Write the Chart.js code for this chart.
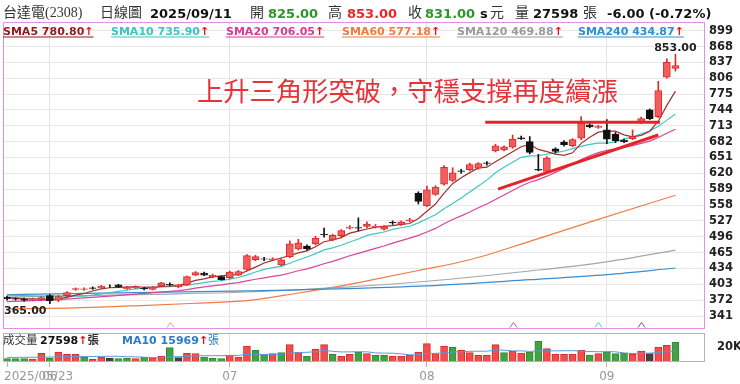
<!DOCTYPE html>
<html><head><meta charset="utf-8">
<script src="https://cdn.jsdelivr.net/npm/chart.js@4.4.1/dist/chart.umd.min.js"></script>
<style>
html,body{margin:0;padding:0;background:#fff;}
#wrap{position:relative;width:740px;height:384px;overflow:hidden;background:#fff;}
canvas{position:absolute;left:0;}
.t{position:absolute;white-space:nowrap;line-height:1;transform:translateY(-50%);}
.hz{font-family:"Liberation Serif","Noto Sans CJK TC",serif;font-size:14px;color:#333;}
.hn{font-family:"DejaVu Sans",sans-serif;font-weight:bold;font-size:13px;color:#111;}
.lg{font-family:"DejaVu Sans",sans-serif;font-weight:bold;font-size:11px;text-decoration:underline;text-underline-offset:2px;}
.vz{font-family:"Noto Sans CJK TC",sans-serif;font-size:11.5px;color:#333;}
.vn{font-family:"DejaVu Sans",sans-serif;font-weight:bold;font-size:11px;color:#111;}
.xl{font-family:"DejaVu Sans",sans-serif;font-size:12px;color:#999;}
.up{color:#e8101a;}
#note{font-family:"Noto Sans CJK TC",sans-serif;font-size:26.3px;color:#e4343a;}
</style></head><body><div id="wrap">
<canvas id="main" width="740" height="335" style="top:0"></canvas>
<canvas id="vol" width="740" height="54" style="top:330px"></canvas>
</div>
<script>
// ---------------- DATA ----------------
const stockName = '台達電(2308)';
const chartKind = '日線圖';
const dates = ['2025/05/23','2025/05/26','2025/05/27','2025/05/28','2025/05/29',
'2025/06/02','2025/06/03','2025/06/04','2025/06/05','2025/06/06','2025/06/09','2025/06/10','2025/06/11','2025/06/12','2025/06/13',
'2025/06/16','2025/06/17','2025/06/18','2025/06/19','2025/06/20','2025/06/23','2025/06/24','2025/06/25','2025/06/26','2025/06/27','2025/06/30',
'2025/07/01','2025/07/02','2025/07/03','2025/07/04','2025/07/07','2025/07/08','2025/07/09','2025/07/10','2025/07/11',
'2025/07/14','2025/07/15','2025/07/16','2025/07/17','2025/07/18','2025/07/21','2025/07/22','2025/07/23','2025/07/24','2025/07/25',
'2025/07/28','2025/07/29','2025/07/30','2025/07/31',
'2025/08/01','2025/08/04','2025/08/05','2025/08/06','2025/08/07','2025/08/08','2025/08/11','2025/08/12','2025/08/13','2025/08/14','2025/08/15',
'2025/08/18','2025/08/19','2025/08/20','2025/08/21','2025/08/22','2025/08/25','2025/08/26','2025/08/27','2025/08/28','2025/08/29',
'2025/09/01','2025/09/02','2025/09/03','2025/09/04','2025/09/05','2025/09/08','2025/09/09','2025/09/10','2025/09/11'];
const opens  = [378,375,374,372.5,373,381,372,381,393,393,396,396,399,402,394,396,395,393,400,403,398,402,421,425,418,418,416,421,432,451,
453,451,441,457,472,478,482,501,490,498,513,514,516,515,511,524,520,527,581,557,579,599,606,625,627,630,640.5,664,666,671,
689.5,682,628,624,668,681,674,689,715,710,705,697,685,688,719,744,731,808,825];
const highs  = [380,377,376,376,379,383,381,389,396,396,398,401,402,403,399,400,397,399,407,406,403,419,428,427,423,419,429,430,461,460,
456,455,453,488,491,480,497,513,501,510,518,533,525,520,518,527,527,532,584,595,596,635,631,628,640,641,643,677,674,695,
693,692,657,653,670,684,688,731,717,714,725,700,687,705,730,746,800,844,853];
const lows   = [372,372,370,371,371,365,369,379,391,391,393,395,397,397,393,395,392,392,399,400,396,401,420,420,416,411,414,420,430,449,
449,449,439,455,470,470,480,495,488,496,511,508,514,513,509,520,518,525,560,555,577,597,604,620,625,628,636,662,664,669,
686,658,625,622,660,673,672,686,709,708,678,680,680,686,717,725,729,806,820];
const closes = [375,374,372,373.5,377,371,379,387,394.5,394,395,399,399,398,397,398.5,394,398,406,402,402,418,426,421,420.5,412,427,428,459,457,
452,453,451,482,484,472,493,500,499,508,515,513,521,516.5,516,523,525,529,565,588,593,632,621,624,637,639,639.5,674,672,687,
688,661,626,650,663,676,686,718,711,712,687,684,682,692,727,727,782,837,831];
const priorClose = 377;
const volumes = [4600,4600,4600,4100,12000,5100,13800,10600,10600,6900,
3700,6900,5100,4600,5100,4600,6900,6000,8300,19800,
6000,12000,11500,6900,5100,4600,9700,6900,22100,16100,
10100,11500,12900,23900,12900,7800,17500,23900,10600,7800,
10600,13800,11500,9200,9200,7800,8300,9200,13800,25300,
11500,21600,20700,16100,12900,9200,9200,23900,12900,14700,
12400,13800,28500,18400,10600,10600,10600,16100,9200,11500,
13800,11500,12400,10600,15200,11500,20700,23000,27598];
const sma5Head  = [[0,377],[2,375]];
const sma10Head = [[0,382],[4,380]];
const sma20Head = [[0,369],[6,373],[12,380]];
const volMa10Head = [[0,6300],[4,6600]];
const sma60Pts  = [[0,355],[8,357],[15,361],[22,366],[28,371],[34,386],[39,400],[43,413],[48,430],[54,451],[61,487],[69,530],[78,577.18]];
const sma120Pts = [[0,378],[17,383.5],[28,388],[40,398],[49,409],[61,429],[70,447],[78,469.88]];
const sma240Pts = [[0,383],[28,390],[49,400],[61,412],[70,422],[78,434.87]];
const maNames  = ['SMA5','SMA10','SMA20','SMA60','SMA120','SMA240'];
const maLatest = [780.80,735.90,706.05,577.18,469.88,434.87];
const volMa10Latest = 15969;
const yTicks = [899,868,837,806,775,744,713,682,651,620,589,558,527,496,465,434,403,372,341];
const volTicks = [20000];
const resistance = [[55.8,720],[76.2,720]];
const support = [[57.3,589],[76.0,695]];
const signalIdx = [19,59,69,74];
const noteText = '上升三角形突破，守穩支撐再度續漲';

// ---------------- STYLES ----------------
const maColors = ['#a0302c','#3ec6c6','#d9449c','#f07c46','#a6a6a6','#3b8dd1'];
const maTextColors = ['#8e1b1b','#3ec3c3','#d43c96','#f07b3f','#9a9a9a','#2f8fd0'];
const signalColors = ['#f29a8a','#d9559f','#4cc8d8','#9c4a4a'];
const RED_FILL='#f45d5d', RED_LINE='#dc2a2a', BLACK='#111';
const VOL_UP='#f24c4c', VOL_UP_B='#d42e2e', VOL_DN='#45a045', VOL_DN_B='#2f8a2f', VOL_EQ='#444';

// ---------------- HELPERS ----------------
const N = closes.length;
const idx = closes.map((_,i)=>i);
function smaPts(arr,n,head){
  const pts = head.map(([i,v])=>({x:i,y:v}));
  for(let i=n-1;i<arr.length;i++){let s=0;for(let k=i-n+1;k<=i;k++)s+=arr[k];pts.push({x:i,y:s/n});}
  return pts;
}
const toPts = a=>a.map(([i,v])=>({x:i,y:v}));
const isUp = i=>closes[i]>opens[i];
const candleFill = idx.map(i=>isUp(i)?RED_FILL:BLACK);
const candleLine = idx.map(i=>isUp(i)?RED_LINE:BLACK);
const dir = idx.map(i=>{const p=i===0?priorClose:closes[i-1];return closes[i]>p?1:closes[i]<p?-1:0;});
const monthTicks = dates.map((d,i)=>({i,d})).filter(o=>o.i===0||dates[o.i].slice(5,7)!==dates[o.i-1].slice(5,7))
  .map(o=>({i:o.i,label:o.i===0?o.d:o.d.slice(5,7)}));

// ---------------- HTML TEXT ----------------
const wrap = document.getElementById('wrap');
function addText(x,y,html,cls,style){const d=document.createElement('div');d.className='t '+cls;d.style.left=x+'px';d.style.top=y+'px';if(style)d.style.cssText+=style;d.innerHTML=html;wrap.appendChild(d);return d;}
const L = N-1, chg = closes[L]-closes[L-1], pct = chg/closes[L-1]*100;
const colorOf = v=>v>closes[L-1]?'#e8262a':v<closes[L-1]?'#2a962a':'#111';
addText(3,12.5,stockName,'hz');
addText(100,12.5,chartKind,'hz');
addText(150,12.5,dates[L],'hn');
addText(250,12.5,'開','hz');
addText(268,12.5,opens[L].toFixed(2),'hn','color:'+colorOf(opens[L]));
addText(328,12.5,'高','hz');
addText(347,12.5,highs[L].toFixed(2),'hn','color:'+colorOf(highs[L]));
addText(408,12.5,'收','hz');
addText(425,12.5,closes[L].toFixed(2),'hn','color:'+colorOf(closes[L]));
addText(480,12.5,'s','hn');
addText(490,12.5,'元','hz');
addText(515,12.5,'量','hz');
addText(533,12.5,String(volumes[L]),'hn');
addText(583,12.5,'張','hz');
addText(607,12.5,chg.toFixed(2)+' ('+pct.toFixed(2)+'%)','hn');
const lgX = [3,111,226,342,457,578];
maNames.forEach((n,k)=>addText(lgX[k],31,n+' '+maLatest[k].toFixed(2)+'<span class="up">↑</span>','lg','color:'+maTextColors[k]));
addText(3,340,'成交量','vz');
addText(40,340,String(volumes[L])+'<span class="up">↑</span><span class="vz" style="font-size:11.5px">張</span>','vn');
addText(122,340,'MA10 '+volMa10Latest+'<span class="up">↑</span><span style="font-family:\'Noto Sans CJK TC\';font-weight:normal">張</span>','vn','color:#2a7cc7');
const note = addText(197,90,noteText,'','');
note.id='note';

// ---------------- CHARTS ----------------
const X_MIN=-0.467, X_MAX=81.45;
const lineDs = (data,color,order,smooth)=>({type:'line',data,borderColor:color,borderWidth:1.2,pointRadius:0,fill:false,order,
  tension:0,cubicInterpolationMode:smooth?'monotone':'default'});
const noPad = s=>{s.paddingTop=0;s.paddingBottom=0;s.paddingLeft=0;s.paddingRight=0;};

const mainPlugin = {id:'mainDeco',
  afterDatasetsDraw(chart){
    const {ctx,chartArea:ca,scales:{x,y}}=chart;
    ctx.save();
    ctx.lineWidth=1;
    signalIdx.forEach((i,k)=>{const px=Math.round(x.getPixelForValue(i))+0.5,b=ca.bottom-1.5;
      ctx.strokeStyle=signalColors[k];ctx.beginPath();ctx.moveTo(px-3.5,b);ctx.lineTo(px,b-5);ctx.lineTo(px+3.5,b);ctx.stroke();});
    const hi=Math.max(...highs),hiI=highs.indexOf(hi),lo=Math.min(...lows),loI=lows.indexOf(lo);
    ctx.font='bold 11px "DejaVu Sans"';ctx.fillStyle='#222';ctx.textBaseline='middle';
    ctx.textAlign='center';ctx.fillText(hi.toFixed(2),x.getPixelForValue(hiI),y.getPixelForValue(hi)-6.5);
    ctx.textAlign='left';ctx.fillText(lo.toFixed(2),ca.left+1,y.getPixelForValue(lo)+7.5);
    ctx.strokeStyle='#e38fe3';ctx.lineWidth=1;
    ctx.strokeRect(ca.left+0.5,ca.top+0.5,ca.width-1,ca.height-1);
    ctx.restore();
  }};

new Chart(document.getElementById('main'),{
  type:'bar',
  data:{datasets:[
    lineDs(toPts(sma240Pts),maColors[5],10,true),
    lineDs(toPts(sma120Pts),maColors[4],10,true),
    lineDs(toPts(sma60Pts),maColors[3],10,true),
    lineDs(smaPts(closes,20,sma20Head),maColors[2],9,false),
    lineDs(smaPts(closes,10,sma10Head),maColors[1],8,false),
    lineDs(smaPts(closes,5,sma5Head),maColors[0],7,false),
    {type:'bar',data:idx.map(i=>({x:i,y:[lows[i],highs[i]]})),backgroundColor:candleLine,barThickness:1,grouped:false,order:4},
    {type:'bar',data:idx.map(i=>({x:i,y:[opens[i],closes[i]]})),backgroundColor:candleFill,borderColor:candleLine,borderWidth:1,
      borderSkipped:false,barThickness:7,grouped:false,order:3},
    {type:'line',data:toPts(resistance),borderColor:'#e5232a',borderWidth:3,pointRadius:0,order:1},
    {type:'line',data:toPts(support),borderColor:'#e5232a',borderWidth:3,pointRadius:0,order:1}
  ]},
  options:{responsive:false,animation:false,devicePixelRatio:1,
    layout:{padding:{left:3,top:22,right:0,bottom:6}},
    plugins:{legend:{display:false},tooltip:{enabled:false}},
    scales:{
      x:{type:'linear',min:X_MIN,max:X_MAX,offset:false,border:{display:false},
         grid:{color:'#e3e3e3',drawTicks:false,offset:false},ticks:{display:false},
         afterBuildTicks:s=>{s.ticks=monthTicks.filter(t=>t.i>0).map(t=>({value:t.i}));},
         afterFit:s=>{s.height=0;noPad(s);}},
      y:{position:'right',min:315.6,max:916,border:{display:false},
         grid:{color:'#e8e8e8',drawTicks:false},
         ticks:{padding:4,color:'#222',font:{family:'DejaVu Sans',size:11.5,weight:'bold'}},
         afterBuildTicks:s=>{s.ticks=yTicks.map(v=>({value:v}));},
         afterFit:s=>{s.width=35;noPad(s);}}
    }},
  plugins:[mainPlugin]
});

const volPlugin={id:'volDeco',
  afterDraw(chart){
    const {ctx,chartArea:ca,scales:{x}}=chart;
    ctx.save();
    ctx.strokeStyle='#b4b4b4';ctx.lineWidth=1;
    ctx.strokeRect(ca.left+0.5,ca.top+0.5,ca.width-1,ca.height-1);
    ctx.restore();
    // month labels as page text, placed from the x scale
    monthTicks.forEach((t,k)=>{const px=x.getPixelForValue(t.i);
      const d=addText(k===0?px-3:px,376,t.label,'xl');
      if(k>0) d.style.transform='translate(-50%,-50%)';});
  }};

new Chart(document.getElementById('vol'),{
  type:'bar',
  data:{datasets:[
    {type:'line',data:smaPts(volumes,10,volMa10Head),borderColor:'#5a9ad6',borderWidth:1,pointRadius:0,order:1},
    {type:'bar',data:idx.map(i=>({x:i,y:volumes[i]})),
      backgroundColor:dir.map(d=>d>0?VOL_UP:d<0?VOL_DN:VOL_EQ),
      borderColor:dir.map(d=>d>0?VOL_UP_B:d<0?VOL_DN_B:'#333'),borderWidth:1,borderSkipped:false,
      barThickness:7,grouped:false,order:2}
  ]},
  options:{responsive:false,animation:false,devicePixelRatio:1,
    layout:{padding:{left:3,top:3,right:0,bottom:0}},
    plugins:{legend:{display:false},tooltip:{enabled:false}},
    scales:{
      x:{type:'linear',min:X_MIN,max:X_MAX,offset:false,border:{display:false},
         grid:{color:c=>c.tick&&c.tick.value===0?'rgba(0,0,0,0)':'#e3e3e3',tickColor:'#b4b4b4',tickLength:5,offset:false},
         ticks:{display:false},
         afterBuildTicks:s=>{s.ticks=monthTicks.map(t=>({value:t.i}));},
         afterFit:s=>{s.height=22;noPad(s);}},
      y:{position:'right',min:0,max:40000,border:{display:false},grid:{display:false},
         ticks:{padding:4,color:'#222',font:{family:'DejaVu Sans',size:11.5,weight:'bold'},callback:v=>(v/1000)+'K'},
         afterBuildTicks:s=>{s.ticks=volTicks.map(v=>({value:v}));},
         afterFit:s=>{s.width=35;noPad(s);}}
    }},
  plugins:[volPlugin]
});
</script>
</body></html>
